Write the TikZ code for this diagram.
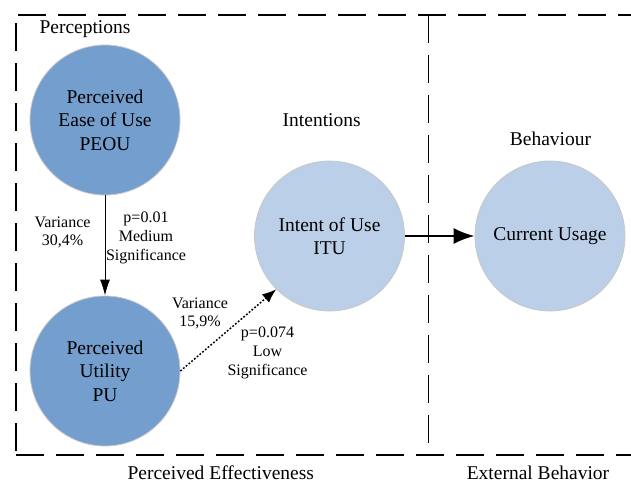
\documentclass[tikz,border=0pt]{standalone}
\usepackage{fontspec}
\setmainfont{Liberation Serif}
\usetikzlibrary{arrows.meta}
\definecolor{darkblue}{RGB}{115,158,205}
\definecolor{lightblue}{RGB}{188,207,232}
\definecolor{rimgray}{RGB}{200,200,200}
\tikzset{
  bigtext/.style={font=\rmfamily\fontsize{19.5}{23.5}\selectfont},
  smalltext/.style={font=\rmfamily\fontsize{16}{19}\selectfont, align=center, anchor=base, inner sep=0},
  grouplabel/.style={bigtext, anchor=base, inner sep=0},
  bubble/.style={circle, minimum size=150pt, inner sep=0, draw=rimgray, line width=0.8pt, bigtext, align=center},
  darkbubble/.style={bubble, fill=darkblue},
  lightbubble/.style={bubble, fill=lightblue},
  frame/.style={line width=1.6pt, dash pattern=on 28pt off 12pt},
}
\begin{document}
\begin{tikzpicture}[x=1pt, y=-1pt]
\useasboundingbox (0,0) rectangle (631,482);
% frames
\coordinate (tl) at (18,15);
\coordinate (tr) at (631,15);
\coordinate (lt) at (16,23);
\coordinate (lb) at (16,455);
\coordinate (br) at (631,455);
\coordinate (dt) at (428.3,15);
\coordinate (db) at (428.3,455);
\draw[frame] (tl) -- (tr);
\draw[frame] (lt) -- (lb);
\draw[frame] (lb) -- (br);
\draw[frame] (dt) -- (db);
% group labels
\node[grouplabel] (perc) at (85,33.5) {Perceptions};
\node[grouplabel] (intn) at (321.7,126.7) {Intentions};
\node[grouplabel] (behv) at (550.5,145) {Behaviour};
\node[grouplabel] (peff) at (220.8,479) {Perceived Effectiveness};
\node[grouplabel] (extb) at (538,479) {External Behavior};
% bubbles
\node[darkbubble] (peou) at (105,120) {Perceived\\Ease of Use\\PEOU};
\node[darkbubble] (pu) at (105,371) {Perceived\\Utility\\PU};
\node[lightbubble] (itu) at (329.5,236) {Intent of Use\\ITU};
\node[lightbubble] (cu) at (550,236) {Current Usage};
% connectors
\draw[line width=1pt, -{Latex[length=16pt,width=10pt]}] (peou) -- (pu);
\draw[line width=1.5pt, dash pattern=on 1.8pt off 1.8pt, -{Latex[length=14pt,width=11pt]}] (pu.east) -- (itu.225);
\draw[line width=2.2pt, -{Latex[length=21pt,width=16pt]}] (itu) -- (cu);
% edge labels (anchor base = last line's baseline)
\node[smalltext] (var1) at (62.5,245) {Variance\\[-1pt]30,4\%};
\node[smalltext] (sig1) at (146,260.7) {p=0.01\\Medium\\Significance};
\node[smalltext] (var2) at (200,326.7) {Variance\\[-0.5pt]15,9\%};
\node[smalltext] (sig2) at (267.5,375) {p=0.074\\Low\\Significance};
\end{tikzpicture}
\end{document}
